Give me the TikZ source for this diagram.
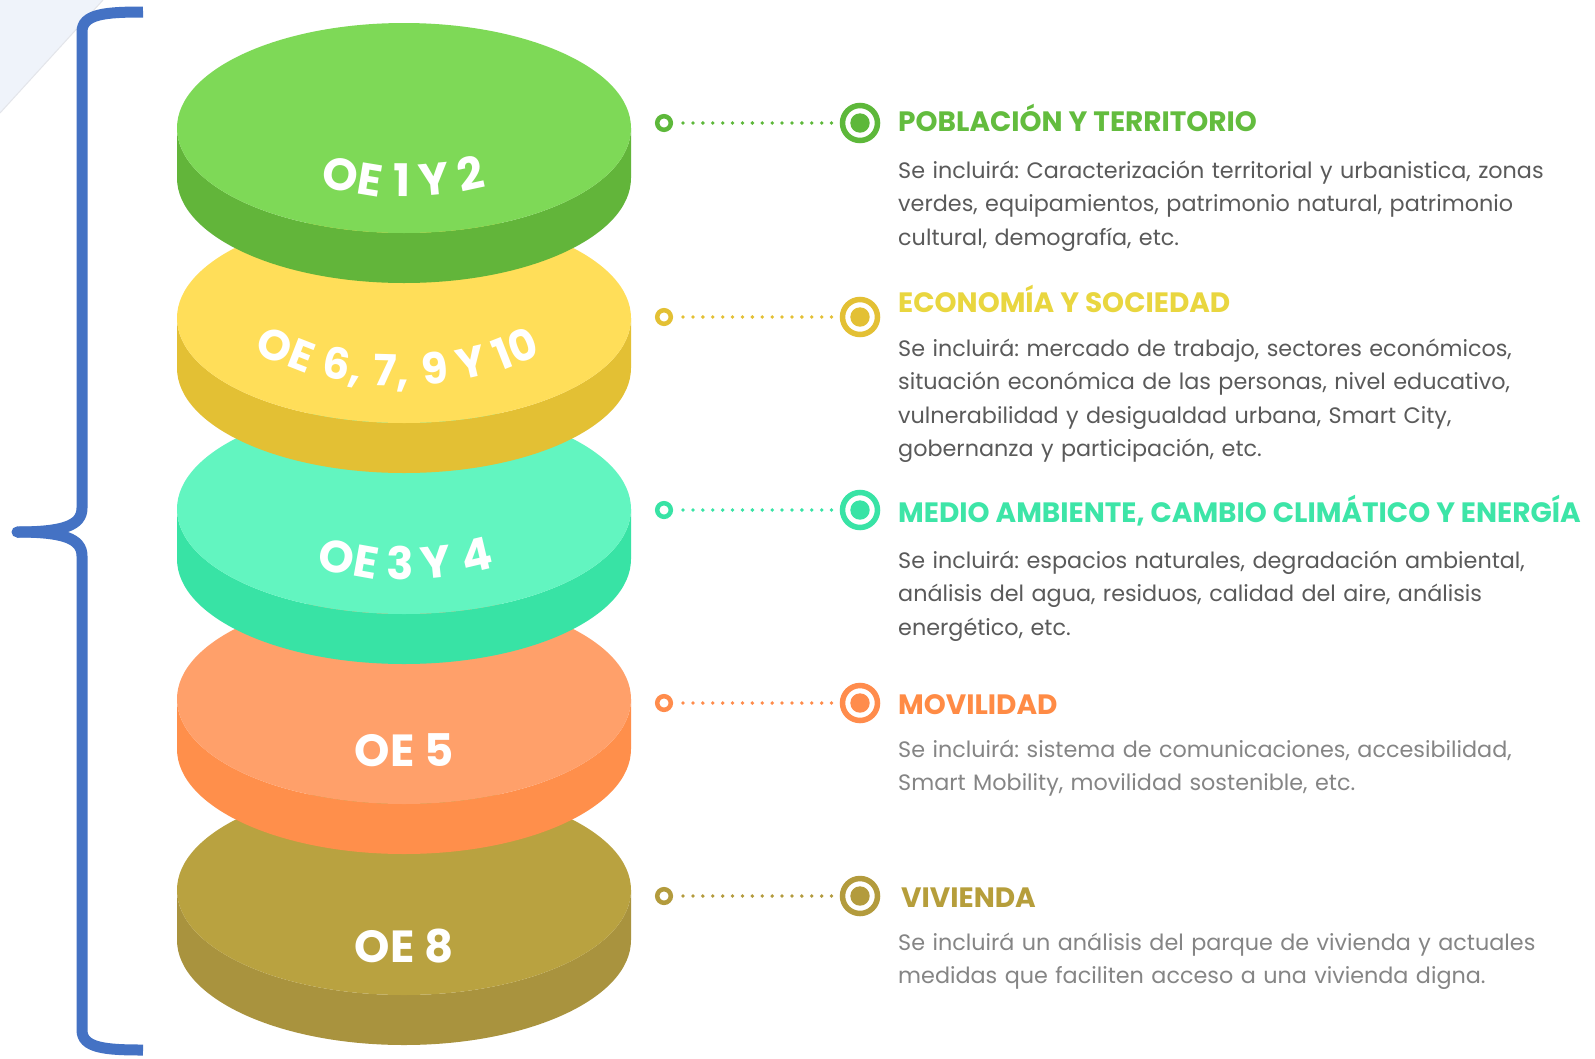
\documentclass[tikz,border=0pt]{standalone}
\usepackage{fontspec}
\setmainfont{Poppins}
\definecolor{grT}{HTML}{7ED957}\definecolor{grS}{HTML}{62B53A}
\definecolor{yeT}{HTML}{FFDE59}\definecolor{yeS}{HTML}{E3C034}
\definecolor{cyT}{HTML}{62F5C0}\definecolor{cyS}{HTML}{38E3A5}
\definecolor{orT}{HTML}{FFA06A}\definecolor{orS}{HTML}{FF8F4B}
\definecolor{olT}{HTML}{B9A240}\definecolor{olS}{HTML}{A9933E}
\definecolor{grR}{HTML}{5DB83A}\definecolor{yeR}{HTML}{E3C034}
\definecolor{cyR}{HTML}{38E3A5}\definecolor{orR}{HTML}{FF8C4C}
\definecolor{olR}{HTML}{B39B3D}
\definecolor{grH}{HTML}{63BC3E}\definecolor{yeH}{HTML}{E9D63F}
\definecolor{cyH}{HTML}{3DE5A7}\definecolor{orH}{HTML}{FF8B45}
\definecolor{olH}{HTML}{B69E3B}
\definecolor{bodyA}{HTML}{5A5A5A}\definecolor{bodyB}{HTML}{858585}
\definecolor{braceblue}{HTML}{4472C4}
\definecolor{bgtri}{HTML}{EFF3FA}\definecolor{triedge}{HTML}{E3E5EA}
\newcommand\oelabelfont{\fontsize{45}{45}\selectfont\bfseries}
\newcommand\oelabelfontsm{\fontsize{43}{43}\selectfont\bfseries}
\tikzset{
  brace/.style={draw=braceblue, line width=11pt},
  oelab/.style={text=white, inner sep=0pt, font=\oelabelfont},
  smallring/.style={circle, draw=#1, line width=4.5pt, minimum size=13.6pt, inner sep=0pt},
  bigring/.style={circle, draw=#1, line width=5.5pt, minimum size=35pt, inner sep=0pt},
  dotline/.style={draw=#1, line width=3.8pt, line cap=round, dash pattern=on 0pt off 9.9pt, shorten <=10pt, shorten >=7.75pt},
  head/.style={text=#1, inner sep=0pt, anchor=base west, font=\fontsize{28}{32}\selectfont\bfseries},
  body/.style={text=#1, inner sep=0pt, anchor=base west, text width=720pt, align=left, font=\fontsize{22.3}{33.5}\selectfont\frenchspacing}
}
\begin{document}
\begin{tikzpicture}[x=1pt,y=1pt]
\useasboundingbox (0,0) rectangle (1595,-1058);
\fill[white] (0,0) rectangle (1595,-1058);
\fill[bgtri] (0,0) -- (103,0) -- (0,-113) -- cycle;
\draw[triedge, line width=1pt] (103,0) -- (0,-113);
% bracket
\draw[brace] (143,-12) .. controls (105,-12) and (82,-14) .. (82,-32) -- (82,-508) .. controls (82,-526) and (62,-532) .. (17,-532);
\draw[brace] (143,-1050) .. controls (105,-1050) and (82,-1048) .. (82,-1030) -- (82,-556) .. controls (82,-538) and (62,-532) .. (17,-532);
\fill[braceblue] (17,-532) circle[radius=5.5];
% disks
\foreach \yc/\tp/\sd in {890/olT/olS, 699/orT/orS, 509/cyT/cyS, 318/yeT/yeS, 128/grT/grS}{
  \fill[\sd] (177,-\yc) -- (177,-\yc-50) arc[start angle=180, end angle=360, x radius=227, y radius=105] -- (631,-\yc) arc[start angle=0, end angle=-180, x radius=227, y radius=105] -- cycle;
  \fill[\tp] (404,-\yc) ellipse[x radius=227, y radius=105];
}
% disk labels (set along an arc)
\foreach \t/\r [count=\i] in {{OE}/-9.4, {1}/-0.3, {Y}/5.4, {2}/12.2}{
  \path (404,133) ++(270+\r:330) node[oelab, anchor=base, rotate=\r] (la\i) {\t};
}
\foreach \t/\r [count=\i] in {{OE}/-21.3, {6,}/-10.5, {7,}/-1.6, {9}/6.3, {Y}/13.0, {10}/21.5}{
  \path (400,-56) ++(270+\r:330) node[oelab, font=\oelabelfontsm, anchor=base, rotate=\r] (lb\i) {\t};
}
\foreach \t/\r [count=\i] in {{OE}/-10.1, {3}/-0.7, {Y}/5.9, {4}/13.3}{
  \path (404,-250) ++(270+\r:330) node[oelab, anchor=base, rotate=\r] (lc\i) {\t};
}
\node[oelab] (oe5) at (404,-750) {OE 5};
\node[oelab] (oe8) at (404,-946) {OE 8};
% connectors
\foreach \i/\y/\c in {1/123/grR, 2/317/yeR, 3/510/cyR, 4/703/orR, 5/896/olR}{
  \node[smallring=\c] (s\i) at (664,-\y) {};
  \node[bigring=\c] (b\i) at (860,-\y) {};
  \fill[\c] (b\i.center) circle[radius=9.7];
  \draw[dotline=\c] (s\i.east) -- (b\i.west);
}
% headings
\node[head=grH] (h1) at (898,-131) {POBLACIÓN Y TERRITORIO};
\node[head=yeH] (h2) at (898,-312) {ECONOMÍA Y SOCIEDAD};
\node[head=cyH] (h3) at (898,-522) {MEDIO AMBIENTE, CAMBIO CLIMÁTICO Y ENERGÍA};
\node[head=orH] (h4) at (898,-714) {MOVILIDAD};
\node[head=olH] (h5) at (901,-907) {VIVIENDA};
% bodies
\node[body=bodyA] (t1) at (898,-178) {Se incluirá: Caracterización territorial y urbanistica, zonas\\verdes, equipamientos, patrimonio natural, patrimonio\\cultural, demografía, etc.};
\node[body=bodyA] (t2) at (898,-356) {Se incluirá: mercado de trabajo, sectores económicos,\\situación económica de las personas, nivel educativo,\\vulnerabilidad y desigualdad urbana, Smart City,\\gobernanza y participación, etc.};
\node[body=bodyA] (t3) at (898,-568) {Se incluirá: espacios naturales, degradación ambiental,\\análisis del agua, residuos, calidad del aire, análisis\\energético, etc.};
\node[body=bodyB] (t4) at (898,-757) {Se incluirá: sistema de comunicaciones, accesibilidad,\\Smart Mobility, movilidad sostenible, etc.};
\node[body=bodyB] (t5) at (898,-950) {Se incluirá un análisis del parque de vivienda y actuales\\medidas que faciliten acceso a una vivienda digna.};
\end{tikzpicture}
\end{document}
